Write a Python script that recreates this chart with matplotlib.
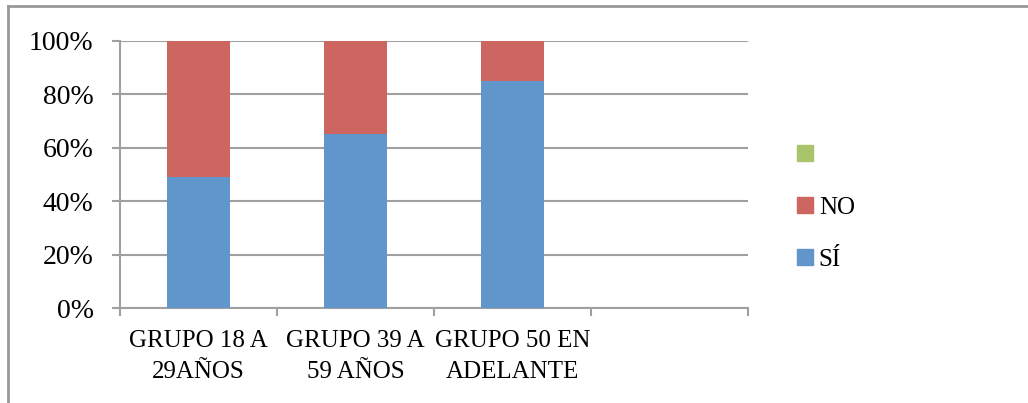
import numpy as np
import matplotlib
matplotlib.use("Agg")
import matplotlib.pyplot as plt
from matplotlib.patches import Patch
from matplotlib.lines import Line2D

# === datos ===
categorias = ["GRUPO 18 A\n29AÑOS", "GRUPO 39 A\n59 AÑOS", "GRUPO 50 EN\nADELANTE", ""]
si = [49, 65, 85, 0]
no = [51, 35, 15, 0]
otro = [0, 0, 0, 0]
yticks = [0, 20, 40, 60, 80, 100]

colores = {"SÍ": "#6096CB", "NO": "#CD6660", "": "#A9C46A"}
gris = "#A0A0A0"

plt.rcParams["font.family"] = ["Liberation Serif", "DejaVu Serif"]
plt.rcParams["font.size"] = 18

fig = plt.figure(figsize=(10.28, 4.03), dpi=100)
ax = fig.add_axes([120 / 1028, 1 - 308 / 403, 628 / 1028, 267 / 403])

x = np.arange(len(categorias))
ax.bar(x, si, width=0.4, color=colores["SÍ"], zorder=3)
ax.bar(x, no, width=0.4, bottom=si, color=colores["NO"], zorder=3)
ax.bar(x, otro, width=0.4, bottom=np.add(si, no), color=colores[""], zorder=3)

ax.set_xlim(-0.5, len(categorias) - 0.5)
ax.set_ylim(0, 100)

# eje y
ax.set_yticks(yticks)
ax.set_yticklabels([f"{v}%" for v in yticks], fontsize=20)
ax.yaxis.grid(True, color=gris, linewidth=1.5, zorder=0)
ax.tick_params(axis="y", length=6, width=1.5, color=gris, pad=13)

# eje x: marcas en los limites, etiquetas al centro
ax.set_xticks(np.arange(len(categorias) + 1) - 0.5)
ax.set_xticklabels([])
ax.set_xticks(x, minor=True)
ax.set_xticklabels(categorias, minor=True, linespacing=1.5)
ax.tick_params(axis="x", which="major", length=6, width=1.5, color=gris)
ax.tick_params(axis="x", which="minor", length=0, pad=16)

for s in ["top", "right"]:
    ax.spines[s].set_visible(False)
for s in ["left", "bottom"]:
    ax.spines[s].set_color(gris)
    ax.spines[s].set_linewidth(1.5)

# leyenda
handles = [Patch(color=colores[""]), Patch(color=colores["NO"]), Patch(color=colores["SÍ"])]
fig.legend(handles, [" ", "NO", "SÍ"], loc="center left",
           bbox_to_anchor=(797 / 1028, 1 - 208 / 403), frameon=False,
           borderpad=0, borderaxespad=0, handlelength=0.62, handleheight=0.62,
           handletextpad=0.25, labelspacing=1.2, fontsize=18)

# borde exterior del grafico
fig.add_artist(Line2D([8 / 1028, 1], [1 - 6 / 403, 1 - 6 / 403], color="#999999",
                      linewidth=2, transform=fig.transFigure))
fig.add_artist(Line2D([8 / 1028, 8 / 1028], [0, 1 - 6 / 403], color="#999999",
                      linewidth=2, transform=fig.transFigure))

fig.savefig("out.png", dpi=100)
